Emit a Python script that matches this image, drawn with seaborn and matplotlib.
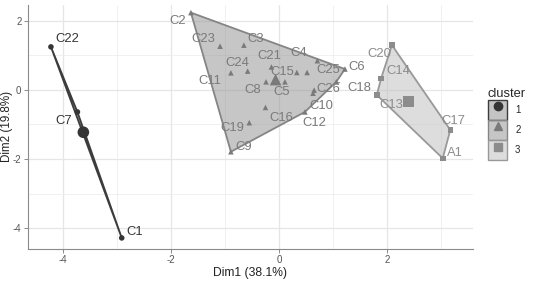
import numpy as np
import pandas as pd
import matplotlib
matplotlib.use("Agg")
import matplotlib.pyplot as plt
import matplotlib.legend_handler
import seaborn as sns
from matplotlib.patches import Patch
from matplotlib.lines import Line2D

# ---------------- data ----------------
labels = ["C22", "C7", "C1",
          "C2", "C23", "C3", "C11", "C24", "C21", "C8", "C5", "C15", "C25",
          "C4", "C6", "C18", "C26", "C10", "C12", "C16", "C19", "C9",
          "C20", "C14", "C13", "C17", "A1"]
dim1 = [-4.22, -3.73, -2.91,
        -1.63, -1.09, -0.65, -0.89, -0.58, -0.14, -0.24, 0.11, 0.33, 0.52,
        0.71, 1.22, 1.06, 0.65, 0.63, 0.48, -0.25, -0.55, -0.89,
        2.09, 1.89, 1.81, 3.17, 3.03]
dim2 = [1.24, -0.64, -4.28,
        2.23, 1.26, 1.29, 0.49, 0.54, 0.66, 0.23, 0.23, 0.50, 0.50,
        0.84, 0.60, 0.23, -0.01, -0.10, -0.64, -0.51, -0.95, -1.79,
        1.29, 0.33, -0.15, -1.16, -1.98]
cluster = ["1"] * 3 + ["2"] * 19 + ["3"] * 5
x_ticks = [-4, -2, 0, 2]
y_ticks = [-4, -2, 0, 2]
x_title = "Dim1 (38.1%)"
y_title = "Dim2 (19.8%)"
legend_title = "cluster"

df = pd.DataFrame({"label": labels, "Dim1": dim1, "Dim2": dim2, "cluster": cluster})

# ---------------- styles ----------------
pt_color = {"1": "#353535", "2": "#7a7a7a", "3": "#8c8c8c"}
edge_color = {"1": "#3c3c3c", "2": "#858585", "3": "#999999"}
fill_color = {"1": "#8a8a8a", "2": "#8f8f8f", "3": "#bdbdbd"}
markers = {"1": "o", "2": "^", "3": "s"}

# label offsets in pixels (dx right, dy down) from the point
offs = {"C22": (16, -8), "C7": (-14, 9), "C1": (13, -6),
        "C2": (-13, 8.5), "C23": (-17, -7), "C3": (12, -6.5), "C11": (-21, 8),
        "C24": (-10, -8), "C21": (-2, -11), "C8": (-13.5, 8.5), "C5": (-3, 10.5),
        "C15": (-15, -0.5), "C25": (21, -2.5), "C4": (-19, -7.5), "C6": (12, -2.5),
        "C18": (23, 6.5), "C26": (14, -1.5), "C10": (8.5, 12.5), "C12": (9.5, 11.5),
        "C16": (16, 10.5), "C19": (-16.5, 5.5), "C9": (12.5, -5),
        "C20": (-12.5, 8.5), "C14": (17, -7.5), "C13": (14.5, 10.5),
        "C17": (3.5, -8.5), "A1": (12.5, -5)}
segment_labels = {"C18"}

sns.set_theme(style="white")
plt.rcParams["font.family"] = ["Liberation Sans", "DejaVu Sans"]
plt.rcParams["axes.unicode_minus"] = False

fig = plt.figure(figsize=(5.39, 2.83), dpi=100)
ax = fig.add_axes([27.7 / 539, 34 / 283, (473 - 27.7) / 539, (249 - 5) / 283])


def hull(pts):
    pts = sorted(set(pts))
    if len(pts) < 3:
        return pts

    def cross(o, a, b):
        return (a[0] - o[0]) * (b[1] - o[1]) - (a[1] - o[1]) * (b[0] - o[0])

    lower, upper = [], []
    for p in pts:
        while len(lower) >= 2 and cross(lower[-2], lower[-1], p) <= 0:
            lower.pop()
        lower.append(p)
    for p in reversed(pts):
        while len(upper) >= 2 and cross(upper[-2], upper[-1], p) <= 0:
            upper.pop()
        upper.append(p)
    return lower[:-1] + upper[:-1]


for c in ["1", "2", "3"]:
    sub = df[df.cluster == c]
    h = hull(list(zip(sub.Dim1, sub.Dim2)))
    hx = [p[0] for p in h]
    hy = [p[1] for p in h]
    ax.fill(hx, hy, facecolor=fill_color[c], alpha=0.5, edgecolor="none", zorder=2)
    ax.fill(hx, hy, facecolor="none", edgecolor=edge_color[c], linewidth=1.3, zorder=3)

sns.scatterplot(data=df, x="Dim1", y="Dim2", hue="cluster", style="cluster",
                palette=pt_color, markers=markers, s=16, linewidth=0,
                legend=False, ax=ax, zorder=4)

cent = df.groupby("cluster")[["Dim1", "Dim2"]].mean().reset_index()
sns.scatterplot(data=cent, x="Dim1", y="Dim2", hue="cluster", style="cluster",
                palette=pt_color, markers=markers, s=70, linewidth=0,
                legend=False, ax=ax, zorder=5)

for _, r in df.iterrows():
    dx, dy = offs[r.label]
    kw = {}
    if r.label in segment_labels:
        kw["arrowprops"] = dict(arrowstyle="-", color=pt_color[r.cluster], lw=0.6,
                                shrinkA=3, shrinkB=1)
    ax.annotate(r.label, (r.Dim1, r.Dim2), xytext=(dx, -dy), textcoords="offset pixels",
                ha="center", va="center", fontsize=9.4, color=pt_color[r.cluster],
                zorder=6, **kw)

ax.set_xlim(-4.65, 3.59)
ax.set_ylim(-4.60, 2.45)
ax.set_xticks(x_ticks)
ax.set_yticks(y_ticks)
ax.set_xticks([-3, -1, 1, 3], minor=True)
ax.set_yticks([-3, -1, 1], minor=True)
ax.grid(True, which="major", color="#e6e6e6", linewidth=0.9, zorder=0)
ax.grid(True, which="minor", color="#eeeeee", linewidth=0.6, zorder=0)
ax.set_axisbelow(True)
for s in ["top", "right"]:
    ax.spines[s].set_visible(False)
for s in ["left", "bottom"]:
    ax.spines[s].set_color("#8a8a8a")
    ax.spines[s].set_linewidth(0.8)
ax.tick_params(axis="both", which="major", length=3, width=0.7, color="#8a8a8a",
               labelsize=7, labelcolor="#555555", pad=1.5, bottom=True, left=True)
ax.tick_params(axis="both", which="minor", length=0)
ax.set_xlabel(x_title, fontsize=8.7, color="#222222")
ax.set_ylabel(y_title, fontsize=8.4, color="#222222")
ax.xaxis.set_label_coords(0.5, (249 - 273) / 244, transform=ax.transAxes)
ax.yaxis.set_label_coords((7 - 27.7) / 445.3, 0.5, transform=ax.transAxes)
ax.xaxis.label.set_va("center")
ax.yaxis.label.set_va("center")
ax.set_facecolor("white")

handles = []
for c in ["1", "2", "3"]:
    handles.append((Patch(facecolor=fill_color[c], alpha=0.5, edgecolor="none"),
                    Patch(facecolor="none", edgecolor=edge_color[c], linewidth=1.0),
                    Line2D([], [], marker=markers[c], linestyle="none",
                           color=pt_color[c], markersize=6)))
leg = fig.legend(handles, ["1", "2", "3"], title=legend_title,
                 loc="upper left", bbox_to_anchor=(486 / 539, 1 - 86 / 283),
                 frameon=False, fontsize=7, title_fontsize=9.3,
                 handlelength=2.0, handleheight=2.8, labelspacing=0.0,
                 handletextpad=0.8, borderaxespad=0, borderpad=0.2,
                 handler_map={tuple: matplotlib.legend_handler.HandlerTuple(ndivide=1)})
leg._legend_box.align = "left"

fig.savefig("out.png", dpi=100)
